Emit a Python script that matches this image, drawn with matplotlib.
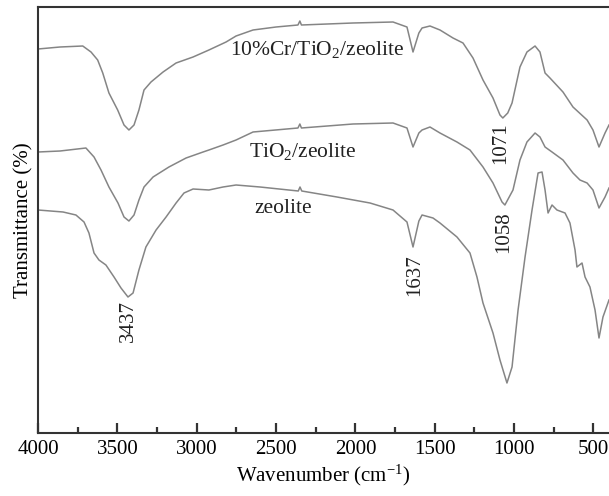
import numpy as np
import matplotlib
matplotlib.use("Agg")
import matplotlib.pyplot as plt

plt.rcParams["font.family"] = ["Liberation Serif", "DejaVu Serif"]
plt.rcParams["mathtext.fontset"] = "custom"
plt.rcParams["mathtext.rm"] = "Liberation Serif"
plt.rcParams["mathtext.it"] = "Liberation Serif:italic"

# --- Data (wavenumber, transmittance in arbitrary units) ---
wn_cr = [4000, 3861, 3718, 3666, 3624, 3592, 3553, 3498, 3458, 3427, 3395, 3364,
         3332, 3288, 3212, 3130, 3023, 2923, 2815, 2752, 2645, 2500, 2362, 2350,
         2340, 2015, 1763, 1675, 1637, 1600, 1580, 1530, 1467, 1385, 1322, 1259,
         1196, 1133, 1089, 1071, 1040, 1013, 963, 919, 868, 837, 805, 774,
         692, 629, 540, 503, 465, 427, 402]
t_cr = [384, 386, 387, 381, 373, 360, 340, 323, 308, 303, 308, 323,
        343, 351, 361, 370, 376, 383, 391, 397, 403, 406, 408, 412,
        408, 410, 411, 406, 381, 400, 405, 407, 403, 395, 390, 375,
        353, 335, 318, 315, 320, 330, 366, 381, 387, 381, 360, 355,
        341, 326, 313, 303, 286, 300, 308]

wn_ti = [4000, 3861, 3698, 3647, 3603, 3553, 3496, 3458, 3427, 3395, 3364, 3332,
         3275, 3175, 3067, 2960, 2923, 2834, 2752, 2645, 2362, 2350, 2340, 2015,
         1763, 1675, 1637, 1600, 1580, 1530, 1467, 1360, 1278, 1196, 1133, 1076,
         1058, 1007, 963, 919, 868, 837, 805, 761, 692, 629, 585, 540,
         503, 465, 427, 402]
t_ti = [281, 282, 285, 276, 263, 246, 230, 216, 212, 218, 233, 246,
        256, 266, 275, 281, 283, 288, 293, 301, 305, 309, 305, 309,
        310, 305, 286, 300, 303, 306, 300, 291, 283, 266, 250, 231,
        228, 243, 273, 291, 300, 296, 286, 281, 273, 260, 253, 250,
        243, 225, 236, 245]

wn_ze = [4000, 3842, 3761, 3710, 3679, 3647, 3616, 3572, 3521, 3477, 3433, 3401,
         3364, 3320, 3256, 3193, 3130, 3080, 3023, 2923, 2834, 2752, 2601, 2360,
         2349, 2338, 2116, 1908, 1763, 1675, 1637, 1600, 1580, 1511, 1467, 1360,
         1278, 1234, 1196, 1133, 1089, 1045, 1013, 975, 931, 887, 849, 824,
         805, 786, 761, 730, 679, 648, 616, 604, 572, 553, 522, 490,
         465, 440, 402]
t_ze = [223, 221, 218, 211, 200, 180, 173, 168, 156, 145, 136, 140,
        163, 186, 203, 216, 230, 240, 244, 243, 246, 248, 246, 242,
        246, 242, 236, 230, 223, 211, 186, 212, 218, 215, 210, 196,
        180, 156, 130, 100, 73, 50, 66, 123, 176, 223, 260, 261,
        243, 220, 228, 223, 220, 210, 183, 166, 170, 156, 146, 123,
        95, 116, 133]

labels = ["10%Cr/TiO$_2$/zeolite", "TiO$_2$/zeolite", "zeolite"]
label_pos = [(2242, 383), (2330, 281), (2456, 224)]
peaks = ["3437", "1637", "1058", "1071"]
peak_pos = [(3433, 112), (1625, 158), (1064, 201), (1083, 290)]

# --- Plot ---
fig = plt.figure(figsize=(6.09, 4.96), dpi=100)
ax = fig.add_axes([38 / 609, 63 / 496, 1 - 38 / 609, (433 - 7.3) / 496])

line_color = "#858585"
for wn, t in [(wn_cr, t_cr), (wn_ti, t_ti), (wn_ze, t_ze)]:
    ax.plot(wn, t, color=line_color, lw=1.1)

for txt, (x, y) in zip(labels, label_pos):
    ax.text(x, y, txt, ha="center", va="center", fontsize=15.5, color="#222222")
for txt, (x, y) in zip(peaks, peak_pos):
    ax.text(x, y, txt, ha="center", va="center", rotation=90, fontsize=15, color="#222222")

ax.set_xlim(4000, 402)
ax.set_ylim(0, 425.7)
ax.set_xticks(np.arange(4000, 499, -500))
ax.set_xticks(np.arange(3750, 499, -500), minor=True)
ax.set_yticks([])
ax.tick_params(axis="x", which="major", direction="in", length=7, width=1.6,
               labelsize=15, color="#333333", pad=5)
ax.tick_params(axis="x", which="minor", direction="in", length=4, width=1.6, color="#333333")
ax.spines["right"].set_visible(False)
for s in ["left", "top", "bottom"]:
    ax.spines[s].set_color("#333333")
    ax.spines[s].set_linewidth(1.5)

ax.set_xlabel("Wavenumber (cm$^{-1}$)", fontsize=15, labelpad=3)
ax.set_ylabel("Transmittance (%)", fontsize=15, labelpad=3)

fig.savefig("out.png", dpi=100)
